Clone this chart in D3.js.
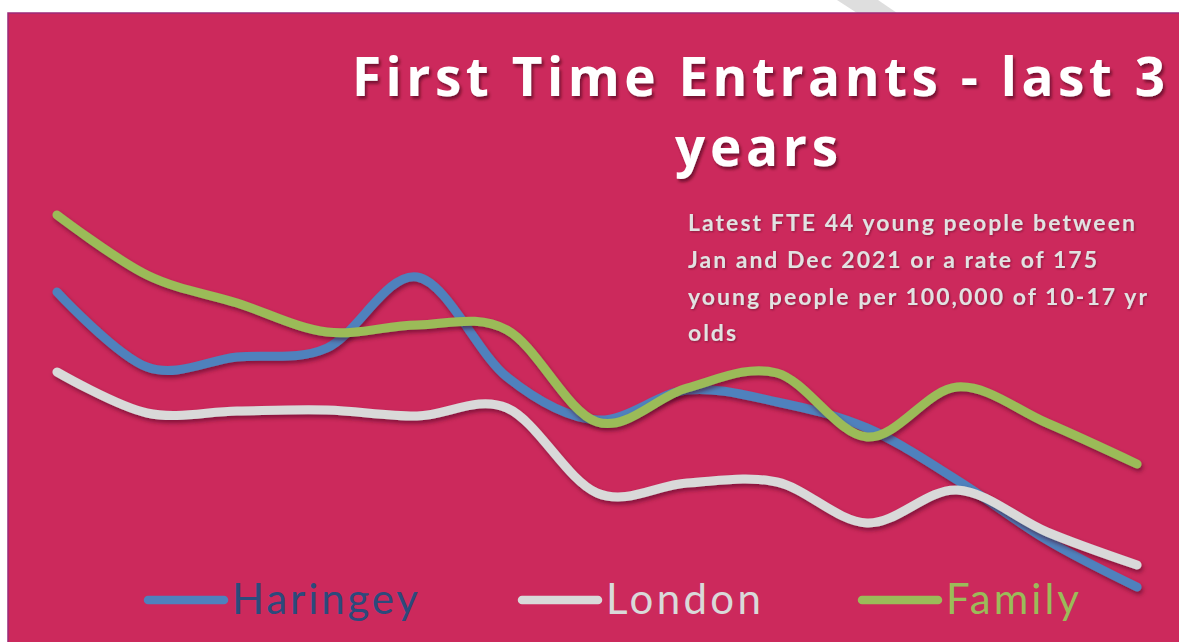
<!DOCTYPE html>
<meta charset="utf-8">
<style>
  body { margin: 0; background: #fff; }
  svg { display: block; }
  .line {
    fill: none;
    stroke-width: 9px;
    stroke-linecap: round;
    stroke-linejoin: round;
  }
</style>
<body>
<script src="https://d3js.org/d3.v7.min.js"></script>
<script>
  // quarterly points over the last 3 years
  var categories = ["Dec-18", "Mar-19", "Jun-19", "Sep-19", "Dec-19", "Mar-20", "Jun-20",
                    "Sep-20", "Dec-20", "Mar-21", "Jun-21", "Sep-21", "Dec-21"];

  // rate per 100,000 of 10-17 year olds
  var haringey = [470, 395, 405, 414, 485, 385, 342, 372, 360, 334, 282, 222, 175];
  var london   = [390, 349, 351, 352, 346, 354, 269, 279, 280, 239, 272, 230, 197];
  var family   = [547, 487, 459, 430, 437, 432, 340, 374, 389, 325, 375, 339, 298];

  var seriesNames  = ["Haringey", "London", "Family"];
  var seriesColors = ["#4f81bd", "#d9d9d9", "#9bbb59"];
  var labelColors  = ["#2c4a7c", "#d9d9d9", "#9bbb59"];

  var titleLines = ["First Time Entrants - last 3", "years"];
  var noteLines = [
    "Latest FTE 44 young people between",
    "Jan and Dec 2021 or a rate of 175",
    "young people per 100,000 of 10-17 yr",
    "olds"
  ];

  var width = 1179,
      height = 642;

  var svg = d3.select("body").append("svg")
      .attr("width", width)
      .attr("height", height);

  var defs = svg.append("defs");
  defs.append("filter").attr("id", "lineShadow")
      .attr("x", "-10%").attr("y", "-10%").attr("width", "120%").attr("height", "130%")
    .append("feDropShadow")
      .attr("dx", 1.5).attr("dy", 3).attr("stdDeviation", 2)
      .attr("flood-color", "#4a0620").attr("flood-opacity", 0.55);
  defs.append("filter").attr("id", "textShadow")
    .append("feDropShadow")
      .attr("dx", 2).attr("dy", 3).attr("stdDeviation", 1.5)
      .attr("flood-color", "#3a0515").attr("flood-opacity", 0.6);
  defs.append("filter").attr("id", "noteShadow")
    .append("feDropShadow")
      .attr("dx", 1).attr("dy", 1).attr("stdDeviation", 0.8)
      .attr("flood-color", "#5a0a25").attr("flood-opacity", 0.6);

  // little grey mark above the panel
  svg.append("polygon")
      .attr("points", "837,0 878,0 897,13 857,13")
      .attr("fill", "#dedede");

  // panel
  svg.append("rect")
      .attr("x", 8).attr("y", 13)
      .attr("width", 1200).attr("height", 660)
      .attr("fill", "#cc295c")
      .attr("stroke", "#9c2a78")
      .attr("stroke-width", 1.5);

  // title
  var title = svg.append("g")
      .attr("font-family", "'Open Sans', Lato, sans-serif")
      .attr("font-weight", "bold")
      .attr("font-size", 53)
      .attr("fill", "#ffffff")
      .attr("filter", "url(#textShadow)");
  title.append("text")
      .attr("x", 352).attr("y", 96)
      .attr("textLength", 813).attr("lengthAdjust", "spacing")
      .text(titleLines[0]);
  title.append("text")
      .attr("x", 675).attr("y", 166)
      .attr("textLength", 163).attr("lengthAdjust", "spacing")
      .text(titleLines[1]);

  // note text
  var noteWidths = [447, 409, 459, 48];
  svg.append("g")
      .attr("font-family", "Lato, 'Open Sans', sans-serif")
      .attr("font-weight", "bold")
      .attr("font-size", 23)
      .attr("fill", "#e2e2e2")
      .attr("filter", "url(#noteShadow)")
    .selectAll("text")
    .data(noteLines)
    .enter().append("text")
      .attr("x", 688)
      .attr("y", function(d, i) { return 231 + i * 36.8; })
      .attr("textLength", function(d, i) { return noteWidths[i]; })
      .attr("lengthAdjust", "spacing")
      .text(function(d) { return d; });

  // scales
  var x = d3.scalePoint()
      .domain(categories)
      .range([57, 1137]);

  var y = d3.scaleLinear()
      .domain([100, 500])
      .range([662, 262]);

  var line = d3.line()
      .x(function(d) { return x(d.cat); })
      .y(function(d) { return y(d.value); })
      .curve(d3.curveCatmullRom.alpha(0));

  var seriesValues = [haringey, london, family];
  var series = seriesNames.map(function(name, i) {
    return {
      name: name,
      color: seriesColors[i],
      values: seriesValues[i].map(function(v, j) { return { cat: categories[j], value: v }; })
    };
  });

  svg.append("g").selectAll("path")
    .data(series)
    .enter().append("path")
      .attr("class", "line")
      .attr("stroke", function(d) { return d.color; })
      .attr("filter", "url(#lineShadow)")
      .attr("d", function(d) { return line(d.values); });

  // legend
  var legendX = [148, 522, 862];
  var legendTextW = [186, 155, 133];
  var legend = svg.append("g").selectAll("g")
    .data(series)
    .enter().append("g")
      .attr("transform", function(d, i) { return "translate(" + legendX[i] + ",600)"; });

  legend.append("line")
      .attr("x1", 0).attr("x2", 76)
      .attr("stroke", function(d) { return d.color; })
      .attr("stroke-width", 8.5)
      .attr("stroke-linecap", "round");

  legend.append("text")
      .attr("x", 84).attr("y", 14)
      .attr("font-family", "Lato, 'Open Sans', sans-serif")
      .attr("font-size", 42)
      .attr("fill", function(d, i) { return labelColors[i]; })
      .attr("textLength", function(d, i) { return legendTextW[i]; })
      .attr("lengthAdjust", "spacing")
      .text(function(d) { return d.name; });
</script>
</body>
